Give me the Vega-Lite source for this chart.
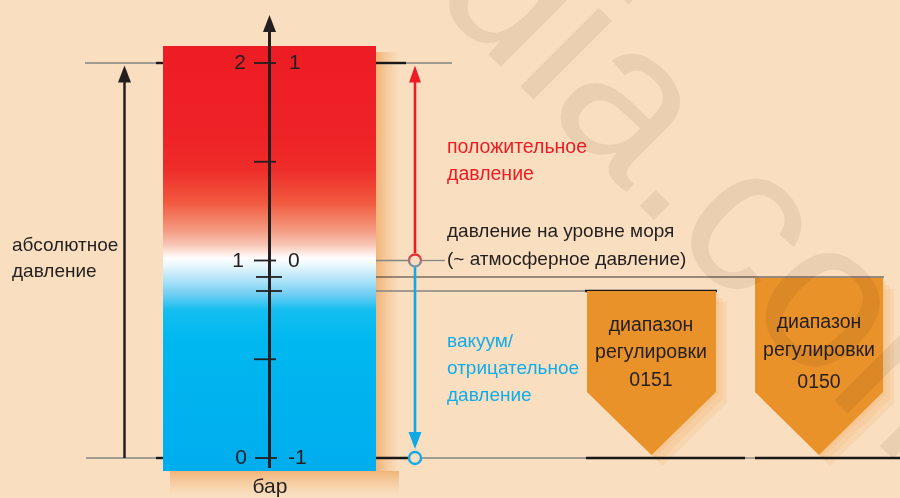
{
  "$schema": "https://vega.github.io/schema/vega-lite/v6.json",
  "width": 900,
  "height": 498,
  "padding": 0,
  "autosize": {"type": "none"},
  "background": "#F9DFBF",
  "config": {"view": {"stroke": null}, "text": {"font": "Liberation Sans"}},
  "datasets": {
    "shadowRight": [
      {"x": 376, "x2": 399, "y": 2.0557, "y2": -0.0658}
    ],
    "shadowBottom": [
      {"x": 170, "x2": 399, "y": -0.0658, "y2": -0.1823}
    ],
    "gray": [
      {"x": 85, "x2": 160, "y": 2},
      {"x": 405, "x2": 452, "y": 2},
      {"x": 86, "x2": 160, "y": 0},
      {"x": 420, "x2": 590, "y": 0},
      {"x": 743, "x2": 757, "y": 0},
      {"x": 308, "x2": 410, "y": 1},
      {"x": 421, "x2": 445, "y": 1},
      {"x": 287, "x2": 588, "y": 0.8456}
    ],
    "thin": [
      {"x": 287, "x2": 884, "y": 0.9165}
    ],
    "thick": [
      {"x": 156, "x2": 163, "y": 2},
      {"x": 376, "x2": 406, "y": 2},
      {"x": 156, "x2": 163, "y": 0},
      {"x": 376, "x2": 409, "y": 0},
      {"x": 586, "x2": 745, "y": 0},
      {"x": 755, "x2": 900, "y": 0},
      {"x": 585, "x2": 717, "y": 0.8456}
    ],
    "bar": [
      {"x": 163, "x2": 376, "y": 2.0861, "y2": -0.0658}
    ],
    "ticks": [
      {"x": 254, "x2": 276, "y": 2},
      {"x": 254, "x2": 276, "y": 1.5},
      {"x": 254, "x2": 276, "y": 1},
      {"x": 256, "x2": 282, "y": 0.9165},
      {"x": 256, "x2": 282, "y": 0.8456},
      {"x": 254, "x2": 276, "y": 0.5},
      {"x": 255, "x2": 277, "y": 0}
    ],
    "axisLine": [
      {"x": 269.5, "y": -0.0506, "y2": 2.1772}
    ],
    "blackArrow": [
      {"x": 124.5, "y": 0, "y2": 1.9342}
    ],
    "redArrow": [
      {"x": 415, "y": 1.038, "y2": 1.9342}
    ],
    "blueArrow": [
      {"x": 415, "y": 0.9671, "y2": 0.1114}
    ],
    "headsBlack": [
      {"x": 269.5, "y": 2.2},
      {"x": 124.5, "y": 1.9443}
    ],
    "headsRed": [
      {"x": 415, "y": 1.9443}
    ],
    "headsBlue": [
      {"x": 415, "y": 0.0886}
    ],
    "circleTop": [
      {"x": 415, "y": 1}
    ],
    "circleBottom": [
      {"x": 415, "y": 0}
    ],
    "pentShadow": [
      {"id": "a1", "x": 590, "y": 0.3190, "y2": 0.8304},
      {"id": "a1", "x": 654.5, "y": 0.0000, "y2": 0.8304},
      {"id": "a1", "x": 719, "y": 0.3190, "y2": 0.8304},
      {"id": "a2", "x": 758, "y": 0.3190, "y2": 0.8962},
      {"id": "a2", "x": 822, "y": 0.0000, "y2": 0.8962},
      {"id": "a2", "x": 886, "y": 0.3190, "y2": 0.8962},
      {"id": "b1", "x": 594, "y": 0.2987, "y2": 0.8101},
      {"id": "b1", "x": 658.5, "y": -0.0203, "y2": 0.8101},
      {"id": "b1", "x": 723, "y": 0.2987, "y2": 0.8101},
      {"id": "b2", "x": 762, "y": 0.2987, "y2": 0.8759},
      {"id": "b2", "x": 826, "y": -0.0203, "y2": 0.8759},
      {"id": "b2", "x": 890, "y": 0.2987, "y2": 0.8759},
      {"id": "c1", "x": 598, "y": 0.2785, "y2": 0.7899},
      {"id": "c1", "x": 662.5, "y": -0.0405, "y2": 0.7899},
      {"id": "c1", "x": 727, "y": 0.2785, "y2": 0.7899},
      {"id": "c2", "x": 766, "y": 0.2785, "y2": 0.8557},
      {"id": "c2", "x": 830, "y": -0.0405, "y2": 0.8557},
      {"id": "c2", "x": 894, "y": 0.2785, "y2": 0.8557}
    ],
    "pent": [
      {"id": "0151", "x": 587, "y": 0.3342, "y2": 0.8456},
      {"id": "0151", "x": 651.5, "y": 0.0152, "y2": 0.8456},
      {"id": "0151", "x": 716, "y": 0.3342, "y2": 0.8456},
      {"id": "0150", "x": 755, "y": 0.3342, "y2": 0.9114},
      {"id": "0150", "x": 819, "y": 0.0152, "y2": 0.9114},
      {"id": "0150", "x": 883, "y": 0.3342, "y2": 0.9114}
    ],
    "labelsRight": [
      {"x": 246, "y": 2, "t": "2"},
      {"x": 244, "y": 1, "t": "1"},
      {"x": 247, "y": 0, "t": "0"}
    ],
    "labelsLeft": [
      {"x": 289, "y": 2, "t": "1"},
      {"x": 288, "y": 1, "t": "0"},
      {"x": 288, "y": 0, "t": "-1"}
    ],
    "unit": [
      {"x": 270, "y": -0.1468, "t": "бар"}
    ],
    "blackText": [
      {"x": 12, "y": 1.0785, "t": "абсолютное"},
      {"x": 12, "y": 0.9468, "t": "давление"},
      {"x": 447, "y": 1.1494, "t": "давление на уровне моря"},
      {"x": 447, "y": 1.0076, "t": "(~ атмосферное давление)"}
    ],
    "redText": [
      {"x": 447, "y": 1.5747, "t": "положительное"},
      {"x": 447, "y": 1.438, "t": "давление"}
    ],
    "blueText": [
      {"x": 447, "y": 0.5924, "t": "вакуум/"},
      {"x": 447, "y": 0.4557, "t": "отрицательное"},
      {"x": 447, "y": 0.319, "t": "давление"}
    ],
    "pentText": [
      {"x": 651, "y": 0.6734, "t": "диапазон"},
      {"x": 651, "y": 0.5367, "t": "регулировки"},
      {"x": 651, "y": 0.3949, "t": "0151"},
      {"x": 819, "y": 0.6886, "t": "диапазон"},
      {"x": 819, "y": 0.5468, "t": "регулировки"},
      {"x": 819, "y": 0.3848, "t": "0150"}
    ],
    "watermark": [
      {"x": 428, "y": 2.3494, "t": "dia.com"}
    ]
  },
  "encoding": {
    "x": {"field": "x", "type": "quantitative", "scale": {"domain": [0, 900], "nice": false, "zero": false}, "axis": null},
    "y": {"field": "y", "type": "quantitative", "scale": {"domain": [-0.2025, 2.319], "nice": false, "zero": false}, "axis": null}
  },
  "layer": [
    {
      "data": {"name": "shadowRight"},
      "mark": {
        "type": "rect",
        "fill": {
          "gradient": "linear", "x1": 0, "y1": 0, "x2": 1, "y2": 0,
          "stops": [
            {"offset": 0, "color": "rgba(238,165,95,0.75)"},
            {"offset": 0.45, "color": "rgba(238,165,95,0.35)"},
            {"offset": 1, "color": "rgba(238,165,95,0)"}
          ]
        }
      },
      "encoding": {"x2": {"field": "x2"}, "y2": {"field": "y2"}}
    },
    {
      "data": {"name": "shadowBottom"},
      "mark": {
        "type": "rect",
        "fill": {
          "gradient": "linear", "x1": 0, "y1": 0, "x2": 0, "y2": 1,
          "stops": [
            {"offset": 0, "color": "rgba(238,165,95,0.75)"},
            {"offset": 0.45, "color": "rgba(238,165,95,0.35)"},
            {"offset": 1, "color": "rgba(238,165,95,0)"}
          ]
        }
      },
      "encoding": {"x2": {"field": "x2"}, "y2": {"field": "y2"}}
    },
    {
      "data": {"name": "gray"},
      "mark": {"type": "rule", "color": "#858585", "strokeWidth": 1.3},
      "encoding": {"x2": {"field": "x2"}}
    },
    {
      "data": {"name": "thin"},
      "mark": {"type": "rule", "color": "#3A3536", "strokeWidth": 1.2},
      "encoding": {"x2": {"field": "x2"}}
    },
    {
      "data": {"name": "pentShadow"},
      "mark": {"type": "area", "color": "#EFA050", "opacity": 0.14, "interpolate": "linear"},
      "encoding": {"y2": {"field": "y2"}, "detail": {"field": "id"}}
    },
    {
      "data": {"name": "thick"},
      "mark": {"type": "rule", "color": "#1A1718", "strokeWidth": 2.4},
      "encoding": {"x2": {"field": "x2"}}
    },
    {
      "data": {"name": "bar"},
      "mark": {
        "type": "rect",
        "fill": {
          "gradient": "linear", "x1": 0, "y1": 0, "x2": 0, "y2": 1,
          "stops": [
            {"offset": 0, "color": "#ED1C24"},
            {"offset": 0.22, "color": "#EE2326"},
            {"offset": 0.292, "color": "#EE2D2A"},
            {"offset": 0.369, "color": "#F15A40"},
            {"offset": 0.433, "color": "#F49A80"},
            {"offset": 0.468, "color": "#F8C6B6"},
            {"offset": 0.485, "color": "#FCE6DD"},
            {"offset": 0.5, "color": "#FFFFFF"},
            {"offset": 0.518, "color": "#E6F6FC"},
            {"offset": 0.546, "color": "#B8E6F9"},
            {"offset": 0.586, "color": "#6DCDF3"},
            {"offset": 0.621, "color": "#14BEF0"},
            {"offset": 0.69, "color": "#00B8EF"},
            {"offset": 1, "color": "#00ADEE"}
          ]
        }
      },
      "encoding": {"x2": {"field": "x2"}, "y2": {"field": "y2"}}
    },
    {
      "data": {"name": "ticks"},
      "mark": {"type": "rule", "color": "#231F20", "strokeWidth": 1.8},
      "encoding": {"x2": {"field": "x2"}}
    },
    {
      "data": {"name": "axisLine"},
      "mark": {"type": "rule", "color": "#231F20", "strokeWidth": 3},
      "encoding": {"y2": {"field": "y2"}}
    },
    {
      "data": {"name": "blackArrow"},
      "mark": {"type": "rule", "color": "#231F20", "strokeWidth": 2.5},
      "encoding": {"y2": {"field": "y2"}}
    },
    {
      "data": {"name": "redArrow"},
      "mark": {"type": "rule", "color": "#ED1C24", "strokeWidth": 2.6},
      "encoding": {"y2": {"field": "y2"}}
    },
    {
      "data": {"name": "blueArrow"},
      "mark": {"type": "rule", "color": "#12A9E6", "strokeWidth": 2.6},
      "encoding": {"y2": {"field": "y2"}}
    },
    {
      "data": {"name": "headsBlack"},
      "mark": {"type": "point", "shape": "M0,-1L0.765,1L-0.765,1Z", "filled": true, "size": 289, "color": "#231F20", "opacity": 1, "strokeWidth": 0}
    },
    {
      "data": {"name": "headsRed"},
      "mark": {"type": "point", "shape": "M0,-1L0.7,1L-0.7,1Z", "filled": true, "size": 289, "color": "#ED1C24", "opacity": 1, "strokeWidth": 0}
    },
    {
      "data": {"name": "headsBlue"},
      "mark": {"type": "point", "shape": "M0,1L0.765,-1L-0.765,-1Z", "filled": true, "size": 289, "color": "#12A9E6", "opacity": 1, "strokeWidth": 0}
    },
    {
      "data": {"name": "circleTop"},
      "mark": {
        "type": "point", "shape": "circle", "filled": true, "size": 145, "opacity": 1,
        "fill": "#F9DFBF", "strokeWidth": 2.4,
        "stroke": {
          "gradient": "linear", "x1": 0, "y1": 0, "x2": 0, "y2": 1,
          "stops": [
            {"offset": 0, "color": "#E8262C"},
            {"offset": 0.45, "color": "#B86A6E"},
            {"offset": 1, "color": "#6F9DB6"}
          ]
        }
      }
    },
    {
      "data": {"name": "circleBottom"},
      "mark": {"type": "point", "shape": "circle", "filled": true, "size": 145, "opacity": 1, "fill": "#F9DFBF", "stroke": "#12A9E6", "strokeWidth": 2.4}
    },
    {
      "data": {"name": "pent"},
      "mark": {"type": "area", "color": "#E9922A", "opacity": 1, "interpolate": "linear"},
      "encoding": {"y2": {"field": "y2"}, "detail": {"field": "id"}}
    },
    {
      "data": {"name": "labelsRight"},
      "mark": {"type": "text", "align": "right", "baseline": "middle", "fontSize": 21, "color": "#231F20"},
      "encoding": {"text": {"field": "t"}}
    },
    {
      "data": {"name": "labelsLeft"},
      "mark": {"type": "text", "align": "left", "baseline": "middle", "fontSize": 21, "color": "#231F20"},
      "encoding": {"text": {"field": "t"}}
    },
    {
      "data": {"name": "unit"},
      "mark": {"type": "text", "align": "center", "baseline": "middle", "fontSize": 21, "color": "#231F20"},
      "encoding": {"text": {"field": "t"}}
    },
    {
      "data": {"name": "blackText"},
      "mark": {"type": "text", "align": "left", "baseline": "middle", "fontSize": 19, "color": "#231F20"},
      "encoding": {"text": {"field": "t"}}
    },
    {
      "data": {"name": "redText"},
      "mark": {"type": "text", "align": "left", "baseline": "middle", "fontSize": 19.5, "color": "#ED1C24"},
      "encoding": {"text": {"field": "t"}}
    },
    {
      "data": {"name": "blueText"},
      "mark": {"type": "text", "align": "left", "baseline": "middle", "fontSize": 19, "color": "#12ACEB"},
      "encoding": {"text": {"field": "t"}}
    },
    {
      "data": {"name": "pentText"},
      "mark": {"type": "text", "align": "center", "baseline": "middle", "fontSize": 19.5, "color": "#231F20"},
      "encoding": {"text": {"field": "t"}}
    },
    {
      "data": {"name": "watermark"},
      "mark": {"type": "text", "align": "left", "baseline": "alphabetic", "angle": 45, "fontSize": 210, "font": "Liberation Sans", "color": "#F0EDEB", "blend": "multiply"},
      "encoding": {"text": {"field": "t"}}
    }
  ]
}
